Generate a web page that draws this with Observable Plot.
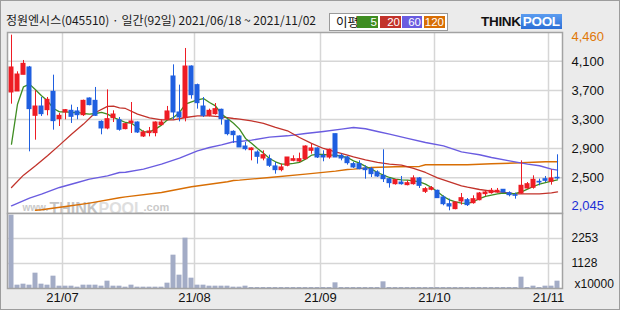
<!DOCTYPE html>
<html><head><meta charset="utf-8">
<script src="https://cdn.jsdelivr.net/npm/d3@7"></script>
<script src="https://cdn.jsdelivr.net/npm/@observablehq/plot@0.6"></script>
<style>
html,body{margin:0;padding:0;background:#ebebeb}
#chart{position:relative;width:620px;height:310px;background:#ebebeb;box-shadow:inset 0 0 0 1px #9c9c9c;overflow:hidden;font-family:"Noto Sans CJK KR","Liberation Sans",sans-serif}
#title{position:absolute;left:6px;top:12px;font-size:12px;line-height:16px;color:#1a1a1a;white-space:nowrap}
#legend{position:absolute;left:329px;top:13px;width:117px;height:16px;background:#fff;border:1px solid #9a9a9a}
#legend .lbl{position:absolute;left:6px;top:0;font-size:12.5px;line-height:16px;color:#111}
#legend .b{position:absolute;top:2px;height:12px;font-family:"Liberation Sans",sans-serif;font-size:11.5px;line-height:12px;color:#fff;text-align:right;padding-right:1px;box-sizing:border-box}
#logo{position:absolute;left:481px;top:14px;height:15px;font-family:"Liberation Sans",sans-serif;font-weight:bold;font-size:13.5px;line-height:15px;white-space:nowrap;letter-spacing:-0.3px}
#logo .think{color:#111}
#logo .pool{color:#fff;background:linear-gradient(#5b9cf0,#2c6fd6);padding:0 2px}
#price{position:absolute;left:0;top:32px}
#vol{position:absolute;left:0;top:213px}
</style></head><body>
<div id="chart">
  <div id="title">정원엔시스(045510) · 일간(92일) 2021/06/18 ~ 2021/11/02</div>
  <div id="legend"><span class="lbl">이평</span></div>
  <div id="logo"><span class="think">THINK</span><span class="pool">POOL</span></div>
  <div id="price"></div>
  <div id="vol"></div>
</div>
<script>
// ---- data (daily candles, 2021/06/18 .. 2021/11/02, 92 trading days) ----
const open = [3672,3686,3915,4016,3351,3479,3429,3681,3305,3397,3420,3411,3360,3589,3557,3268,3177,3319,3291,
  3168,3250,3259,3067,3113,3113,3223,3296,3892,3397,3319,4029,3773,3479,3351,3374,3434,3282,3131,
  3067,2929,2879,2847,2764,2755,2655,2604,2664,2732,2723,2755,2870,2902,2801,2778,3099,2801,2778,
  2687,2687,2627,2618,2572,2526,2480,2411,2434,2398,2411,2490,2306,2334,2320,2228,2136,2068,2173,
  2191,2150,2191,2274,2288,2297,2334,2288,2260,2283,2352,2361,2444,2480,2444,2499];
const high = [4460,3956,4112,4030,3695,3603,3603,3910,3383,3438,3498,3466,3567,3598,3741,3282,3708,3420,3328,
  3246,3534,3268,3145,3191,3268,3296,3480,4052,3773,4277,4038,3787,3603,3443,3520,3443,3296,3145,
  3076,2984,2911,2870,2870,2810,2710,2687,2778,2801,2838,2938,2961,2911,2870,2893,3099,2824,2792,
  2710,2732,2664,2641,2595,2884,2490,2476,2517,2457,2526,2503,2366,2379,2329,2251,2205,2169,2283,
  2214,2251,2297,2320,2352,2352,2338,2306,2288,2732,2434,2526,2480,2517,2609,2815];
const low = [3511,3686,3915,2856,3016,3342,3351,3154,3204,3296,3246,3296,3342,3489,3342,3090,3159,3259,3140,
  3159,3108,3108,3053,3062,3062,3214,3282,3296,3268,3268,3580,3443,3328,3337,3360,3223,3076,2971,
  2916,2870,2732,2687,2732,2641,2549,2581,2650,2719,2710,2741,2824,2764,2719,2755,2778,2732,2673,
  2627,2609,2480,2503,2503,2434,2357,2398,2398,2388,2398,2352,2283,2320,2214,2114,2045,2059,2123,
  2104,2136,2182,2242,2274,2288,2292,2237,2205,2274,2343,2343,2389,2434,2398,2471];
const close = [4016,3919,4066,3443,3479,3374,3571,3278,3351,3429,3337,3360,3557,3498,3351,3177,3305,3369,3159,
  3237,3273,3122,3122,3136,3259,3259,3411,3397,3328,4029,3635,3525,3351,3420,3443,3305,3099,3085,
  2916,2893,2902,2787,2810,2664,2604,2641,2778,2755,2755,2929,2902,2778,2778,2884,2778,2764,2700,
  2641,2618,2604,2549,2517,2480,2425,2467,2411,2425,2490,2388,2343,2357,2219,2136,2104,2159,2219,
  2123,2205,2283,2297,2320,2320,2297,2260,2251,2389,2411,2471,2434,2457,2490,2490];
// volume, unit x10000 shares
const volume = [3300,150,195,150,690,195,150,555,105,105,105,60,150,150,150,105,330,105,105,
  60,150,60,60,60,60,60,240,1500,600,2265,465,150,150,105,105,105,105,60,
  60,105,45,45,45,45,45,45,45,45,45,45,45,45,45,45,255,45,45,
  45,45,45,45,45,300,45,45,45,45,45,45,45,45,45,45,45,45,45,
  45,45,45,45,45,45,45,45,45,510,45,105,45,105,105,330];
// moving averages
const ma5 = [2961,3511,3750,3787,3709,3626,3557,3452,3406,3406,3397,3397,3383,3374,3383,3397,3374,3328,3296,
  3259,3250,3191,3131,3131,3168,3223,3296,3328,3397,3511,3543,3571,3589,3534,3488,3374,3314,3250,
  3168,3040,2975,2902,2838,2764,2719,2687,2687,2696,2710,2755,2810,2820,2820,2810,2810,2792,2778,
  2732,2700,2655,2618,2572,2535,2503,2480,2471,2467,2457,2444,2411,2366,2306,2242,2196,2169,2150,
  2146,2169,2214,2242,2260,2279,2288,2279,2283,2306,2343,2379,2411,2434,2453,2471];
const ma20Idx = [0,2,4,6,8,10,12,14,16,17,18,19,21,23,25,27,29,31,33,35,37,38,40,42,44,46,48,50,52,54,56,57,59,61,63,65,67,69,71,73,75,76,78,80,82,84,86,88,90,91];
const ma20Val = [2366,2535,2664,2801,2948,3099,3237,3397,3480,3484,3461,3452,3374,3324,3296,3296,3328,3351,3351,3337,3314,3305,3282,3246,3191,3145,3053,2971,2902,2856,2810,2787,2746,2710,2687,2673,2627,2572,2498,2444,2389,2370,2338,2315,2297,2279,2279,2279,2292,2306];
const ma60Idx = [0,3,5,8,11,13,16,18,19,22,25,28,31,33,35,37,38,40,43,46,49,52,55,57,59,61,63,66,69,72,75,76,78,80,83,86,88,90,91];
const ma60Val = [2114,2219,2274,2366,2434,2480,2526,2572,2575,2618,2687,2769,2870,2916,2952,2994,2998,3017,3058,3076,3108,3136,3168,3191,3173,3136,3099,3040,2984,2938,2856,2842,2815,2778,2732,2687,2664,2618,2604];
const ma120Idx = [4,5,9,13,18,19,25,30,36,37,38,43,49,54,56,57,60,64,68,69,75,76,80,85,89,91];
const ma120Val = [2052,2059,2104,2150,2224,2237,2297,2375,2444,2462,2467,2503,2549,2590,2613,2618,2641,2650,2655,2678,2678,2678,2691,2705,2719,2719];
// axis labels
const priceTicks = [4100,3700,3300,2900,2500];
const priceMaxLabel = [4460];
const priceMinLabel = [2045];
const volTicks = [1128,2253];
const monthIdx = [9,31,52,71,90];
const monthLabels = ["21/07","21/08","21/09","21/10","21/11"];
const maNames = ["5","20","60","120"];
const maColors = ["#3f8d22","#c2332b","#6a5ce0","#d86e04"];

// ---- legend ----
const leg = document.getElementById("legend");
const boxX = [27,50,72,94], boxW = [21,21,20,21];
maNames.forEach((n,k)=>{
  const s = document.createElement("span");
  s.className = "b"; s.textContent = n;
  s.style.left = boxX[k]+"px"; s.style.width = boxW[k]+"px"; s.style.background = maColors[k];
  leg.appendChild(s);
});

// ---- chart ----
const N = close.length;
const rows = d3.range(N).map(i => ({i, o: open[i], h: high[i], l: low[i], c: close[i], v: volume[i]}));
const upRows = rows.filter(d => d.c >= d.o), dnRows = rows.filter(d => d.c < d.o);
const UP = "#ee1c24", DOWN = "#1f5fe0";
const W = 0.4167;
const GRID = "#d6d6d6", BORDER = "#a3a3a3";
const font = "'Liberation Sans', Arial, sans-serif";
const xOpt = {type: "linear", domain: [-0.5, N - 0.5], range: [8, 560], axis: null};
const pts = (idx, val) => idx.map((i, k) => ({i, v: val[k]}));

const pricePlot = Plot.plot({
  width: 620, height: 181, marginLeft: 7, marginRight: 58, marginTop: 0, marginBottom: 0,
  style: {background: "transparent", overflow: "visible", fontFamily: font},
  x: xOpt,
  y: {domain: [2045, 4460], range: [178.3, 2.67], axis: null},
  marks: [
    Plot.frame({fill: "white", stroke: "none"}),
    Plot.text(["www."], {frameAnchor: "bottom-left", dx: 15, dy: -3, lineAnchor: "bottom", textAnchor: "start", fontSize: 10, fontWeight: "bold", fill: "#cacaca"}),
    Plot.text(["THINK"], {frameAnchor: "bottom-left", dx: 42, dy: 0, lineAnchor: "bottom", textAnchor: "start", fontSize: 16, fontWeight: "bold", fill: "#c4c4c4"}),
    Plot.text(["POOL"], {frameAnchor: "bottom-left", dx: 91, dy: 0, lineAnchor: "bottom", textAnchor: "start", fontSize: 16, fontWeight: "bold", fill: "#dedede"}),
    Plot.text([".com"], {frameAnchor: "bottom-left", dx: 136, dy: -3, lineAnchor: "bottom", textAnchor: "start", fontSize: 11, fontWeight: "bold", fill: "#cacaca"}),
    Plot.ruleY(priceTicks, {stroke: GRID, strokeWidth: 1.5}),
    Plot.ruleX(monthIdx, {x: d => d - 0.5, stroke: GRID, strokeWidth: 1.5}),
    Plot.line(pts(ma120Idx, ma120Val), {x: "i", y: "v", stroke: maColors[3], strokeWidth: 1.4}),
    Plot.line(pts(ma60Idx, ma60Val), {x: "i", y: "v", stroke: maColors[2], strokeWidth: 1.4}),
    Plot.line(pts(ma20Idx, ma20Val), {x: "i", y: "v", stroke: maColors[1], strokeWidth: 1.3}),
    Plot.line(ma5.map((v, i) => ({i, v})), {x: "i", y: "v", stroke: maColors[0], strokeWidth: 1.3}),
    Plot.ruleX(upRows, {x: "i", y1: "l", y2: "h", stroke: UP, strokeWidth: 1}),
    Plot.ruleX(dnRows, {x: "i", y1: "l", y2: "h", stroke: DOWN, strokeWidth: 1}),
    Plot.rect(upRows, {x1: d => d.i - W, x2: d => d.i + W, y1: "o", y2: "c", fill: UP, insetTop: -0.5, insetBottom: -0.5}),
    Plot.rect(dnRows, {x1: d => d.i - W, x2: d => d.i + W, y1: "o", y2: "c", fill: DOWN, insetTop: -0.5, insetBottom: -0.5}),
    Plot.text(priceTicks, {y: d => d, frameAnchor: "right", dx: 9, textAnchor: "start", text: d => d3.format(",")(d), fontSize: 13, fill: "#111"}),
    Plot.text(priceMaxLabel, {y: d => d, frameAnchor: "right", dx: 9, dy: 2, textAnchor: "start", text: d => d3.format(",")(d), fontSize: 13, fill: "#e07808"}),
    Plot.text(priceMinLabel, {y: d => d, frameAnchor: "right", dx: 9, dy: -5, textAnchor: "start", text: d => d3.format(",")(d), fontSize: 13, fill: "#1c2ed6"}),
    Plot.frame({stroke: BORDER, strokeWidth: 1.5})
  ]
});
document.getElementById("price").appendChild(pricePlot);

const volPlot = Plot.plot({
  width: 620, height: 97, marginLeft: 7, marginRight: 58, marginTop: 0, marginBottom: 22,
  style: {background: "transparent", overflow: "visible", fontFamily: font},
  x: xOpt,
  y: {domain: [0, 3375], axis: null},
  marks: [
    Plot.frame({fill: "white", stroke: "none"}),
    Plot.ruleY(volTicks, {stroke: GRID, strokeWidth: 1.5}),
    Plot.ruleX(monthIdx, {x: d => d - 0.5, stroke: GRID, strokeWidth: 1.5}),
    Plot.rect(rows, {x1: d => d.i - W, x2: d => d.i + W, y1: 0, y2: "v", fill: "#a3acc6"}),
    Plot.text(volTicks, {y: d => d, frameAnchor: "right", dx: 9, textAnchor: "start", text: d => String(d), fontSize: 12, fill: "#111"}),
    Plot.text(["x10000"], {frameAnchor: "bottom-right", dx: 12, dy: -1, textAnchor: "start", fontSize: 12, fill: "#111"}),
    Plot.text(monthIdx, {x: d => d - 0.5, frameAnchor: "bottom", dy: 13, text: (d, k) => monthLabels[k], fontSize: 13, fill: "#111"}),
    Plot.frame({stroke: BORDER, strokeWidth: 1.5})
  ]
});
document.getElementById("vol").appendChild(volPlot);
</script>
</body></html>
